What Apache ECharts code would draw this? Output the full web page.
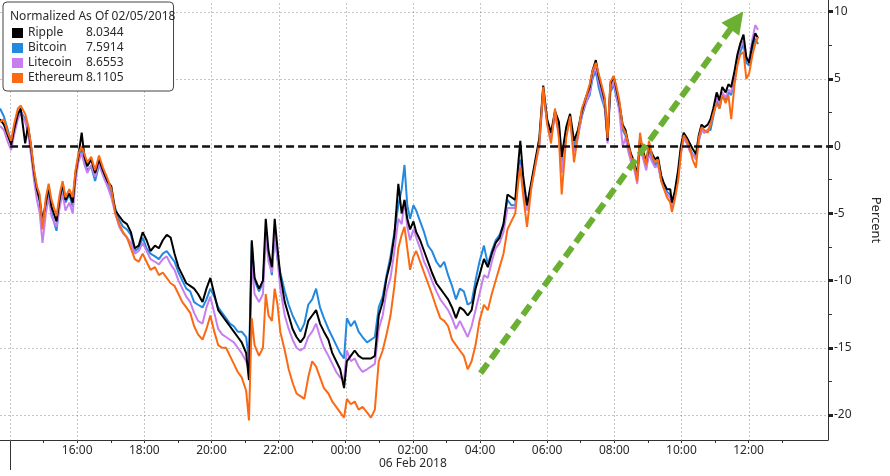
<!DOCTYPE html>
<html><head><meta charset="utf-8">
<script src="https://cdn.jsdelivr.net/npm/echarts@6/dist/echarts.min.js"></script>
<style>html,body{margin:0;padding:0;background:#fff}#c{width:890px;height:476px}</style>
</head><body><div id="c"></div><script>
// time of each sample, minutes after 14:00 on 05 Feb 2018
const TIMES = [-18,-11,-4,2,7,14,19,27,32,37,43,48,53,58,64,69,74,83,89,94,99,106,112,117,122,128,133,138,145,152,159,166,174,181,188,195,202,209,216,223,230,237,244,251,259,266,273,280,287,294,301,308,315,322,329,336,
344,351,358,365,372,379,386,393,400,407,414,422,427,432,437,445,452,457,462,468,473,478,483,491,498,505,512,519,526,533,540,547,554,561,569,576,583,590,597,602,609,616,623,630,638,645,652,659,666,673,680,687,694,700,705,710,715,721,726,733,740,747,754,762,769,776,783,790,797,804,811,818,825,832,839,847,854,861,868,875,882,889,896,903,909,912,917,924,932,939,946,
953,960,967,974,981,986,994,1001,1008,1015,1022,1029,1036,1041,1047,1052,1057,1063,1068,1073,1079,1084,1089,1095,1100,1105,1110,1116,1121,1126,1132,1137,1142,1148,1153,1158,1164,1169,1174,1180,1183,1188,1194,1199,1204,1210,1215,1220,1226,1231,1236,1241,1247,1252,1257,1263,1268,1273,1279,1284,1289,1295,1300,1305,1311,1316,1321,1327,1332,1337];

const RIPPLE = [2.0,1.6,0.8,0.1,1.2,2.4,2.8,0.2,1.5,0.0,-2.0,-3.2,-4.0,-5.5,-4.2,-3.0,-4.5,-5.6,-3.8,-2.8,-4.0,-3.5,-4.2,-2.0,-0.8,1.0,-0.8,-1.5,-1.0,-2.0,-1.0,-1.8,-2.6,-3.0,-4.8,-5.2,-5.6,-5.8,-6.4,-7.6,-7.4,-6.4,-7.0,-7.8,-7.4,-7.6,-7.0,-6.6,-6.8,-8.0,-9.0,-9.6,-10.2,-10.4,-10.6,-11.0,
-11.6,-10.6,-9.8,-11.0,-12.2,-12.6,-13.0,-13.4,-13.8,-14.2,-14.6,-15.4,-17.4,-7.0,-9.8,-10.6,-10.0,-5.4,-7.8,-9.0,-5.4,-7.6,-9.6,-11.6,-12.6,-13.6,-14.2,-14.6,-14.2,-13.0,-12.6,-12.2,-13.2,-13.8,-14.4,-15.4,-16.0,-16.6,-18.0,-16.0,-15.6,-15.2,-15.6,-15.8,-15.8,-15.8,-15.6,-12.6,-11.6,-9.8,-8.6,-6.6,-2.8,-5.0,-4.0,-5.4,-6.2,-5.6,-6.4,-7.0,-7.8,-8.6,-9.4,-10.2,-10.6,-11.0,-11.4,-12.0,-12.8,-12.0,-12.2,-12.6,-12.2,-10.6,-9.6,-8.4,-9.0,-8.0,-7.2,-6.8,-5.8,-3.6,-3.8,-4.0,-1.0,0.4,-2.2,-4.4,-2.6,-1.0,0.6,
4.5,2.0,1.0,2.6,1.8,-0.8,1.4,2.4,0.4,1.2,2.6,3.6,4.4,5.6,6.4,5.2,4.4,3.4,0.4,4.6,5.2,4.2,3.2,1.6,1.2,0.2,-0.6,-1.2,-2.2,0.6,-0.4,-1.2,0.0,-0.6,-1.0,-0.8,-2.2,-2.8,-3.2,-3.2,-4.2,-3.4,-1.8,0.0,1.0,0.6,0.2,-0.2,-0.6,0.8,1.6,1.4,1.6,2.0,2.8,4.0,3.4,4.4,4.0,4.6,4.4,5.6,6.8,7.6,8.3,6.6,6.2,7.6,8.4,8.03];

const BITCOIN = [2.8,2.2,1.2,0.3,1.3,2.3,2.6,2.0,1.4,0.2,-2.0,-3.2,-4.2,-5.8,-4.4,-3.2,-5.0,-6.3,-4.0,-3.0,-4.2,-3.6,-4.5,-2.2,-1.0,-0.2,-1.2,-1.8,-1.5,-2.6,-1.4,-2.0,-2.8,-3.6,-4.6,-5.5,-6.0,-6.2,-6.6,-7.8,-7.6,-6.8,-7.6,-8.0,-8.2,-8.4,-8.0,-7.8,-8.2,-8.6,-9.4,-10.0,-10.6,-10.8,-11.6,-11.8,
-12.0,-11.4,-10.6,-11.2,-12.0,-12.4,-12.8,-13.2,-13.4,-13.8,-13.8,-14.2,-16.0,-7.2,-10.0,-10.8,-10.2,-6.4,-8.2,-9.6,-6.4,-8.4,-9.4,-10.8,-11.8,-12.6,-13.2,-13.8,-13.2,-11.8,-11.4,-10.6,-12.0,-12.8,-13.6,-14.2,-14.8,-15.4,-15.8,-12.8,-13.4,-13.0,-13.8,-14.2,-14.6,-14.4,-14.2,-12.0,-11.2,-9.6,-8.2,-6.4,-4.4,-3.2,-1.4,-4.4,-5.4,-4.4,-4.8,-5.6,-6.4,-7.4,-7.8,-8.6,-9.0,-8.6,-9.6,-10.4,-11.4,-10.6,-10.8,-11.8,-11.6,-10.0,-8.6,-7.4,-8.8,-7.8,-7.0,-6.6,-5.8,-4.0,-4.4,-4.4,-1.6,-1.0,-2.8,-4.6,-2.8,-1.2,0.2,
4.0,1.8,0.8,2.4,1.4,-1.4,1.0,2.0,0.0,0.8,2.2,3.2,3.8,5.0,5.6,4.4,3.6,2.8,0.6,4.0,4.6,3.6,2.8,1.2,0.8,-0.2,-1.0,-1.6,-2.4,0.2,-0.8,-1.6,-0.4,-1.0,-1.4,-1.2,-2.6,-3.0,-3.4,-3.6,-4.4,-3.6,-2.2,-0.4,0.6,0.2,-0.2,-0.6,-0.8,0.4,1.2,1.0,1.2,1.2,2.2,3.4,2.8,3.8,3.4,4.0,3.8,5.0,6.2,7.0,7.6,6.2,6.0,7.2,8.0,7.59];

const LITECOIN = [1.5,1.2,0.3,-0.3,0.8,2.0,2.5,1.8,1.0,-0.5,-2.6,-4.0,-5.0,-7.2,-5.0,-3.8,-5.2,-6.0,-4.5,-3.5,-4.8,-4.2,-5.0,-2.6,-1.2,-0.5,-1.4,-2.0,-1.4,-2.3,-1.3,-2.2,-3.0,-3.8,-5.0,-6.0,-6.5,-6.8,-7.2,-8.0,-7.8,-7.2,-7.8,-8.4,-8.6,-8.8,-8.4,-8.2,-8.8,-9.2,-10.0,-10.6,-11.2,-11.6,-12.4,-13.0,
-13.2,-12.0,-11.2,-12.4,-13.6,-14.0,-14.2,-14.4,-14.6,-15.0,-15.4,-16.0,-16.6,-8.6,-11.0,-11.6,-11.0,-6.6,-8.6,-9.4,-6.4,-8.4,-10.6,-12.6,-13.6,-14.4,-15.0,-15.2,-15.0,-14.2,-13.8,-13.2,-14.2,-15.0,-15.6,-16.2,-16.8,-17.2,-17.4,-15.2,-16.0,-15.8,-16.4,-16.8,-16.6,-16.4,-16.2,-13.6,-12.6,-10.8,-9.8,-7.8,-5.4,-5.8,-4.0,-6.0,-7.0,-6.2,-6.8,-7.6,-8.6,-9.2,-10.0,-10.8,-11.4,-11.8,-12.2,-12.8,-13.6,-13.0,-13.6,-14.2,-13.4,-12.2,-11.0,-9.6,-9.8,-8.6,-7.6,-7.2,-6.4,-4.6,-4.6,-4.6,-2.0,-1.4,-3.0,-4.8,-3.0,-1.4,0.0,
4.2,1.8,0.6,2.2,1.0,-2.0,0.8,2.0,-0.4,0.6,2.4,3.2,4.0,5.2,6.0,4.8,4.0,3.0,0.2,4.2,4.8,3.8,2.6,0.0,0.6,-0.4,-1.2,-1.8,-2.8,0.0,-1.0,-1.8,-0.6,-1.2,-1.6,-1.4,-2.6,-3.2,-3.6,-3.8,-4.6,-3.8,-2.4,-0.6,0.6,0.2,-0.4,-0.6,-1.0,0.4,1.2,1.0,1.2,1.6,2.4,3.6,3.2,4.0,3.6,4.2,4.0,5.4,6.6,7.4,7.8,6.6,6.4,8.0,9.0,8.66];

const ETHEREUM = [1.8,2.0,1.0,0.4,1.6,2.8,3.0,2.4,1.6,0.2,-1.8,-3.0,-3.6,-6.2,-3.8,-2.8,-4.0,-5.2,-3.5,-2.6,-3.8,-3.2,-3.8,-1.8,-0.6,0.0,-0.6,-1.2,-0.8,-1.8,-0.7,-1.6,-2.4,-3.2,-5.0,-5.8,-6.4,-6.8,-7.6,-8.4,-8.6,-8.0,-8.6,-9.2,-9.0,-9.6,-9.4,-9.8,-10.2,-10.4,-11.0,-11.6,-12.0,-12.4,-13.4,-14.0,
-14.4,-13.6,-12.6,-13.8,-14.8,-15.0,-15.0,-15.6,-16.2,-16.8,-17.2,-18.2,-20.4,-12.8,-14.8,-15.6,-15.0,-11.0,-12.6,-13.0,-10.6,-11.8,-13.8,-15.2,-16.6,-17.6,-18.4,-18.6,-18.8,-17.2,-16.0,-16.4,-17.2,-18.0,-18.4,-19.0,-19.4,-19.8,-20.2,-18.8,-19.2,-19.0,-19.6,-19.4,-19.8,-20.2,-19.6,-16.0,-15.2,-14.0,-12.6,-10.4,-7.6,-6.6,-6.0,-7.6,-9.2,-8.2,-7.8,-8.6,-9.4,-10.2,-11.0,-12.0,-12.8,-13.0,-13.4,-14.4,-14.8,-15.2,-15.6,-16.6,-16.0,-14.8,-13.0,-11.8,-12.2,-11.0,-10.0,-9.0,-8.0,-6.2,-5.6,-5.0,-2.4,-1.6,-3.6,-6.0,-3.0,-1.4,0.2,
4.4,1.6,0.2,2.8,0.6,-3.6,0.6,2.2,-1.2,0.8,2.8,3.6,4.6,5.6,6.2,5.4,4.6,3.6,0.6,4.8,5.2,4.4,3.4,1.4,1.0,0.2,-0.8,-1.4,-2.6,1.0,-0.6,-1.4,0.4,-0.8,-1.2,-1.0,-2.6,-3.2,-3.8,-4.2,-4.9,-4.0,-2.6,-0.6,0.8,0.4,-0.2,-1.0,-1.6,0.6,1.4,1.2,1.0,1.6,2.4,3.2,2.8,3.8,3.2,3.8,2.0,4.6,6.0,6.8,7.0,5.0,5.4,6.8,7.6,8.11];

const SERIES_NAMES = ['Ripple','Bitcoin','Litecoin','Ethereum'];
const LEGEND_VALUES = ['8.0344','7.5914','8.6553','8.1105'];
const LEGEND_TITLE = 'Normalized As Of 02/05/2018';
const X_LABELS = [120,240,360,480,600,720,840,960,1080,1200,1320];
const X_TICKS = [60,120,180,240,300,360,420,480,540,600,660,720,780,840,900,960,1020,1080,1140,1200,1260,1320,1380];
const X_GRID = [0,120,240,360,480,600,720,840,960,1080,1200,1320];
const DATE_LABEL = '06 Feb 2018';
const DATE_POS = 720;
const Y_LABELS = [-20,-15,-10,-5,0,5,10];
const Y_MINOR = [-17.5,-12.5,-7.5,-2.5,2.5,7.5];
const Y_GRID = [-20,-15,-10,-5,5,10];
const ARROW = [[841,-16.9],[1299,9.35]];

const X_MIN = -18, X_MAX = 1462, Y_MIN = -21.86, Y_MAX = 10.87;
const FONT = 'Noto Sans';
const TXT = '#2a2a2a';

const pairs = arr => TIMES.map((t, i) => [t, arr[i]]);
const hourLabel = m => String(Math.round(((14 * 60 + m) / 60) % 24)).padStart(2, '0') + ':00';

const lineSeries = (name, arr, color, z) => ({
  name, type: 'line', data: pairs(arr), showSymbol: false, symbol: 'none', z,
  lineStyle: { color, width: 2 }, itemStyle: { color }, emphasis: { disabled: true }, silent: true
});

// dotted grid lines drawn through the axes' own scales
const gridRender = horizontal => (params, api) => {
  const v = horizontal ? api.value(1) : api.value(0);
  const a = api.coord(horizontal ? [X_MIN, v] : [v, Y_MIN]);
  const b = api.coord(horizontal ? [X_MAX, v] : [v, Y_MAX]);
  const ax = Math.round(a[0]) + 0.5, ay = Math.round(a[1]) + 0.5;
  const bx = Math.round(b[0]) + 0.5, by = Math.round(b[1]) + 0.5;
  return { type: 'line', silent: true,
    shape: horizontal ? { x1: ax, y1: ay, x2: bx, y2: ay } : { x1: ax, y1: ay, x2: ax, y2: by },
    style: { stroke: '#8a8a8a', lineWidth: 1, lineDash: [1, 3] } };
};

const chart = echarts.init(document.getElementById('c'), null, { renderer: 'canvas' });
chart.setOption({
  animation: false,
  backgroundColor: '#fff',
  textStyle: { fontFamily: FONT },
  grid: { left: 0, right: 54, top: 0, bottom: 36, containLabel: false },
  xAxis: [
    { type: 'value', min: X_MIN, max: X_MAX, position: 'bottom',
      axisLine: { show: true, onZero: false, lineStyle: { color: '#333', width: 1 } },
      axisTick: { show: true, customValues: X_TICKS, length: 3, lineStyle: { color: '#333' } },
      axisLabel: { show: true, customValues: X_LABELS, formatter: hourLabel, color: TXT, fontSize: 12, margin: 5, fontFamily: FONT },
      splitLine: { show: false } },
    { type: 'value', min: X_MIN, max: X_MAX, position: 'bottom',
      axisLine: { show: false, onZero: false },
      axisTick: { show: true, customValues: [0], length: 30, lineStyle: { color: '#333' } },
      axisLabel: { show: true, customValues: [DATE_POS], formatter: () => DATE_LABEL, color: TXT, fontSize: 12, margin: 18, fontFamily: FONT },
      splitLine: { show: false } }
  ],
  yAxis: [
    { type: 'value', position: 'right', min: Y_MIN, max: Y_MAX,
      name: 'Percent', nameLocation: 'middle', nameRotate: -90, nameGap: 41,
      nameTextStyle: { color: TXT, fontSize: 13, fontFamily: FONT },
      axisLine: { show: true, onZero: false, lineStyle: { color: '#333', width: 1 } },
      axisTick: { show: true, customValues: Y_MINOR, length: 4, lineStyle: { color: '#333' } },
      axisLabel: { show: true, customValues: Y_LABELS, color: TXT, fontSize: 12, margin: 6, fontFamily: FONT },
      splitLine: { show: false } },
    { type: 'value', position: 'right', min: Y_MIN, max: Y_MAX,
      axisLine: { show: false, onZero: false },
      axisTick: { show: true, customValues: Y_LABELS, length: 5, lineStyle: { color: '#222', width: 3 } },
      axisLabel: { show: false }, splitLine: { show: false } }
  ],
  legend: {
    data: SERIES_NAMES, orient: 'vertical', left: 3, top: 2,
    padding: [24, 50, 6, 9], itemWidth: 11, itemHeight: 10, itemGap: 1, icon: 'rect',
    backgroundColor: '#fff', borderColor: '#444', borderWidth: 1, borderRadius: 4, z: 20,
    selectedMode: false,
    formatter: name => `{n|${name}}{v|${LEGEND_VALUES[SERIES_NAMES.indexOf(name)]}}`,
    textStyle: { fontSize: 12, color: TXT, fontFamily: FONT, lineHeight: 14,
      rich: { n: { width: 58, fontSize: 12, lineHeight: 14, fontFamily: FONT, color: TXT },
              v: { fontSize: 12, lineHeight: 14, fontFamily: FONT, color: TXT } } }
  },
  graphic: [{ type: 'text', left: 10, top: 11, z: 30,
    style: { text: LEGEND_TITLE, font: '12px "Noto Sans"', fill: TXT } }],
  series: [
    { type: 'custom', silent: true, z: 1, clip: false, renderItem: gridRender(true),
      data: Y_GRID.map(v => [X_MIN, v]) },
    { type: 'custom', silent: true, z: 1, clip: false, renderItem: gridRender(false),
      data: X_GRID.map(v => [v, Y_MIN]) },
    lineSeries('Bitcoin', BITCOIN, '#2289e0', 3),
    lineSeries('Litecoin', LITECOIN, '#c77ff0', 4),
    lineSeries('Ripple', RIPPLE, '#000000', 5),
    lineSeries('Ethereum', ETHEREUM, '#fb6a12', 6),
    { type: 'line', data: [], silent: true, z: 8,
      markLine: { z: 10, silent: true, symbol: 'none', animation: false, label: { show: false }, emphasis: { disabled: true },
        lineStyle: { color: '#111', width: 2.5, type: [8, 4] },
        data: [[{ coord: [0, 0] }, { coord: [X_MAX, 0] }]] } },
    { type: 'line', data: [], silent: true, z: 9,
      markLine: { z: 11, silent: true, symbol: ['none', 'triangle'], symbolSize: [22, 22], animation: false, label: { show: false }, emphasis: { disabled: true },
        lineStyle: { color: '#6bb033', width: 6, type: [12, 6] }, itemStyle: { color: '#6bb033' },
        data: [[{ coord: ARROW[0] }, { coord: ARROW[1] }]] } }
  ]
});
</script></body></html>
